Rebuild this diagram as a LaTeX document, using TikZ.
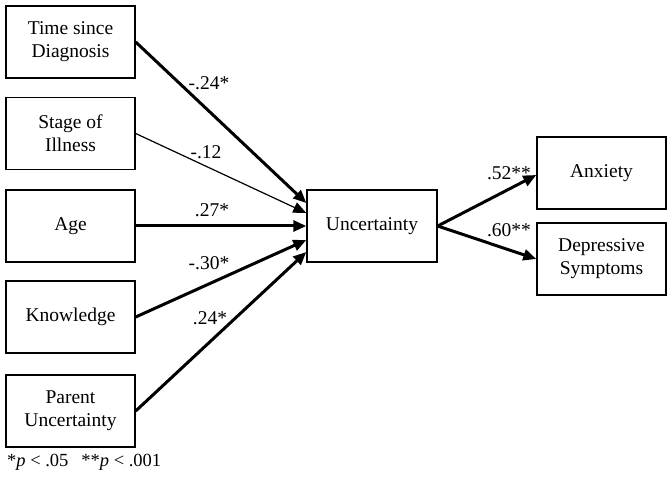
\documentclass[tikz,border=0pt]{standalone}
\usepackage{fontspec}
\setmainfont{Liberation Serif}
\usepackage{tikz}
\usetikzlibrary{arrows.meta}

\begin{document}
\begin{tikzpicture}[x=1pt, y=-1pt,
        box/.style={draw, line width=1.4pt, minimum width=129pt, minimum height=72pt, align=center, font=\fontsize{19.5}{23}\selectfont},
        lbl/.style={font=\fontsize{19.5}{23}\selectfont},
        strong/.style={line width=3pt, -{Triangle[length=13pt,width=11pt]}},
        weak/.style={line width=1.2pt, -{Triangle[length=13pt,width=11pt]}}]
        \useasboundingbox (0,0) rectangle (672,478);
        \node [box] (time) at (70.5, 42) {Time since\\Diagnosis};
        \node [box] (stage) at (70.5, 133.5) {Stage of\\Illness};
        \node [box] (age) at (70.5, 226) {Age};
        \node [box] (know) at (70.5, 317) {Knowledge};
        \node [box] (parent) at (70.5, 411) {Parent\\Uncertainty};
        \node [box, minimum width=130pt] (unc) at (372, 226) {Uncertainty};
        \node [box] (anx) at (601.5, 173) {Anxiety};
        \node [box] (dep) at (601.5, 259) {Depressive\\Symptoms};
        \draw [strong] (time.east) -- ([yshift=23pt]unc.west);
        \draw [weak] (stage.east) -- ([yshift=13pt]unc.west);
        \draw [strong] (age.east) -- (unc.west);
        \draw [strong] (know.east) -- ([yshift=-14pt]unc.west);
        \draw [strong] (parent.east) -- ([yshift=-26pt]unc.west);
        \draw [strong] (unc.east) -- ([yshift=-2pt]anx.west);
        \draw [strong] (unc.east) -- (dep.west);
        \node [lbl] (l1) at (209, 83) {-.24*};
        \node [lbl] (l2) at (206, 152) {-.12};
        \node [lbl] (l3) at (212, 210) {.27*};
        \node [lbl] (l4) at (209, 263) {-.30*};
        \node [lbl] (l5) at (210, 318) {.24*};
        \node [lbl] (l6) at (509, 173) {.52**};
        \node [lbl] (l7) at (509, 230) {.60**};
        \node [right, inner sep=0pt, font=\fontsize{18.5}{22}\selectfont] (note) at (7, 462) {*\textit{p} < .05\hspace{0.7em}**\textit{p} < .001};
    \end{tikzpicture}
\end{document}
